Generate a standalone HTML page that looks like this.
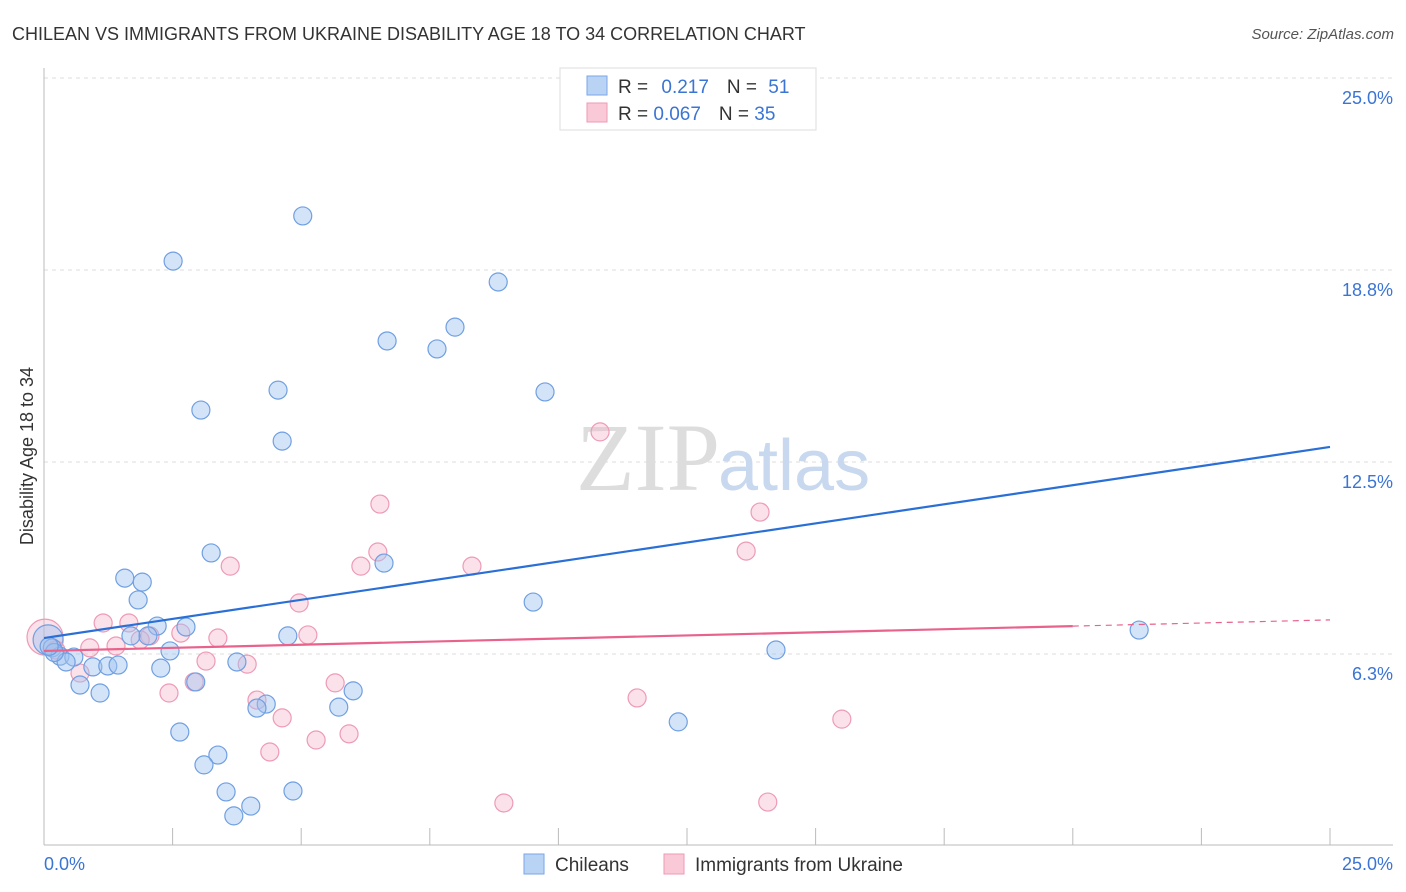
<!DOCTYPE html>
<html><head><meta charset="utf-8"><style>
body{margin:0;background:#fff;font-family:"Liberation Sans",sans-serif}
svg{display:block}
</style></head><body>
<svg id="chart" width="1406" height="892">
<text x="12" y="40" font-size="18" fill="#333">CHILEAN VS IMMIGRANTS FROM UKRAINE DISABILITY AGE 18 TO 34 CORRELATION CHART</text>
<text x="1394" y="39" font-size="15" fill="#555" font-style="italic" text-anchor="end">Source: ZipAtlas.com</text>
<g id="grid"></g>
<text x="720" y="490" font-size="96" font-family="Liberation Serif,serif" fill="#ddd" text-anchor="end">ZIP</text>
<text x="718" y="490" font-size="72" fill="#c8d8ee">atlas</text>
<g id="axes"></g>
<g id="pts"></g>
<g id="lines"></g>
<text transform="translate(33,456) rotate(-90)" font-size="18" fill="#333" text-anchor="middle">Disability Age 18 to 34</text>
<g>
<rect x="560" y="68" width="256" height="62" fill="#fff" stroke="#ddd"/>
<rect x="587" y="76" width="20" height="19" fill="#b9d3f5" stroke="#7aa6e6"/>
<rect x="587" y="103" width="20" height="19" fill="#f9c9d8" stroke="#ee9ab6"/>
<text x="618" y="93" font-size="19" fill="#333">R = <tspan fill="#3a74d4" dx="8">0.217</tspan><tspan fill="#333" dx="18">N = </tspan><tspan fill="#3a74d4" dx="6">51</tspan></text>
<text x="618" y="120" font-size="19" fill="#333">R = <tspan fill="#3a74d4">0.067</tspan><tspan fill="#333" dx="18">N = </tspan><tspan fill="#3a74d4">35</tspan></text>
</g>
<g>
<rect x="524" y="854" width="20" height="20" fill="#b9d3f5" stroke="#7aa6e6"/>
<text x="555" y="871" font-size="19" fill="#333">Chileans</text>
<rect x="664" y="854" width="20" height="20" fill="#f9c9d8" stroke="#ee9ab6"/>
<text x="695" y="871" font-size="19" fill="#333">Immigrants from Ukraine</text>
</g>
</svg>
<script>
const yTicks=[25,18.8,12.5,6.3];
const yTickVals=[25,18.75,12.5,6.25];
const chileX=[5.03,2.51,8.83,7.99,6.67,7.64,4.55,9.74,3.05,4.63,3.25,6.61,1.57,1.91,1.83,9.51,2.20,2.76,2.02,1.69,4.74,21.29,14.23,2.45,0.16,0.31,0.58,0.43,0.95,1.24,1.44,2.27,3.75,2.95,0.70,1.09,6.01,4.32,4.14,5.73,2.64,12.33,3.38,3.11,3.54,4.84,4.02,3.69,0.2,0.1];
const chileY=[20.51,19.04,18.36,16.89,16.44,16.18,14.84,14.78,14.19,13.18,9.54,9.21,8.72,8.59,8.01,7.94,7.16,7.13,6.84,6.84,6.84,7.03,6.38,6.35,6.45,6.18,6.15,5.99,5.83,5.86,5.89,5.79,5.99,5.34,5.24,4.98,5.05,4.62,4.49,4.52,3.71,4.04,2.96,2.64,1.76,1.79,1.30,0.98,6.3,6.5];
const ukrX=[10.81,6.53,13.92,6.49,13.65,3.62,6.16,8.32,4.96,1.15,1.65,2.66,3.38,5.13,2.06,0.89,1.40,3.15,3.95,0.70,2.43,2.92,5.66,4.14,11.53,4.63,15.51,5.29,5.93,4.39,8.94,14.07,0.23,1.87];
const ukrY=[13.48,11.13,10.87,9.57,9.60,9.11,9.11,9.11,7.91,7.26,7.26,6.93,6.77,6.87,6.84,6.45,6.51,6.02,5.92,5.63,4.98,5.34,5.31,4.75,4.82,4.17,4.13,3.45,3.65,3.06,1.40,1.43,6.38,6.71];
const bigChile=[0.08,6.71];
const bigUkr=[0.02,6.80];
const chileTrend=[6.77,12.99];
const ukrTrend=[6.35,7.36];
const ukrSolidEnd=20;

const X=v=>44+v*51.44, Y=v=>846-v*30.72;
const NS="http://www.w3.org/2000/svg";
function mk(p,t,a){const e=document.createElementNS(NS,t);for(const k in a)e.setAttribute(k,a[k]);p.appendChild(e);return e;}
const grid=document.getElementById('grid'),axes=document.getElementById('axes'),pts=document.getElementById('pts'),lines=document.getElementById('lines');
yTickVals.forEach((v,i)=>{
  const l=mk(grid,'line',{x1:44,x2:1393,y1:Y(v),y2:Y(v),stroke:'#ddd','stroke-dasharray':'4,4'});
  
  
  const t=mk(axes,'text',{x:1393,y:Y(v)+26,'font-size':18,fill:'#3a74d4','text-anchor':'end'});
  t.textContent=yTicks[i].toFixed(1)+'%';
  
  
});
let a=mk(axes,'line',{x1:44,x2:44,y1:68,y2:845,stroke:'#bbb'});


a=mk(axes,'line',{x1:44,x2:1393,y1:845,y2:845,stroke:'#bbb'});


for(let v=2.5;v<=25.01;v+=2.5){
  const t=mk(axes,'line',{x1:X(v),x2:X(v),y1:828,y2:845,stroke:'#bbb'});
  
  
}
let xl=mk(axes,'text',{x:44,y:870,'font-size':18,fill:'#3a74d4'});xl.textContent='0.0%';


xl=mk(axes,'text',{x:1393,y:870,'font-size':18,fill:'#3a74d4','text-anchor':'end'});xl.textContent='25.0%';


function dot(x,y,r,blue){
  const c=mk(pts,'circle',{cx:X(x),cy:Y(y),r:r,fill:blue?'rgba(160,196,240,0.45)':'rgba(246,180,200,0.4)',stroke:blue?'#6f9fe2':'#ee9ab6','stroke-width':1.2});
  
  
}
dot(bigUkr[0],bigUkr[1],18,false);
dot(bigChile[0],bigChile[1],15,true);
ukrX.forEach((x,i)=>dot(x,ukrY[i],9,false));
chileX.forEach((x,i)=>dot(x,chileY[i],9,true));
let l=mk(lines,'line',{x1:X(0),y1:Y(chileTrend[0]),x2:X(25),y2:Y(chileTrend[1]),stroke:'#2a6fd6','stroke-width':2.2});


const uy=v=>ukrTrend[0]+(ukrTrend[1]-ukrTrend[0])*v/25;
l=mk(lines,'line',{x1:X(0),y1:Y(uy(0)),x2:X(ukrSolidEnd),y2:Y(uy(ukrSolidEnd)),stroke:'#e8628c','stroke-width':2.2});


l=mk(lines,'line',{x1:X(ukrSolidEnd),y1:Y(uy(ukrSolidEnd)),x2:X(25),y2:Y(uy(25)),stroke:'#e8628c','stroke-width':1.2,'stroke-dasharray':'6,5'});


</script>
</body></html>
